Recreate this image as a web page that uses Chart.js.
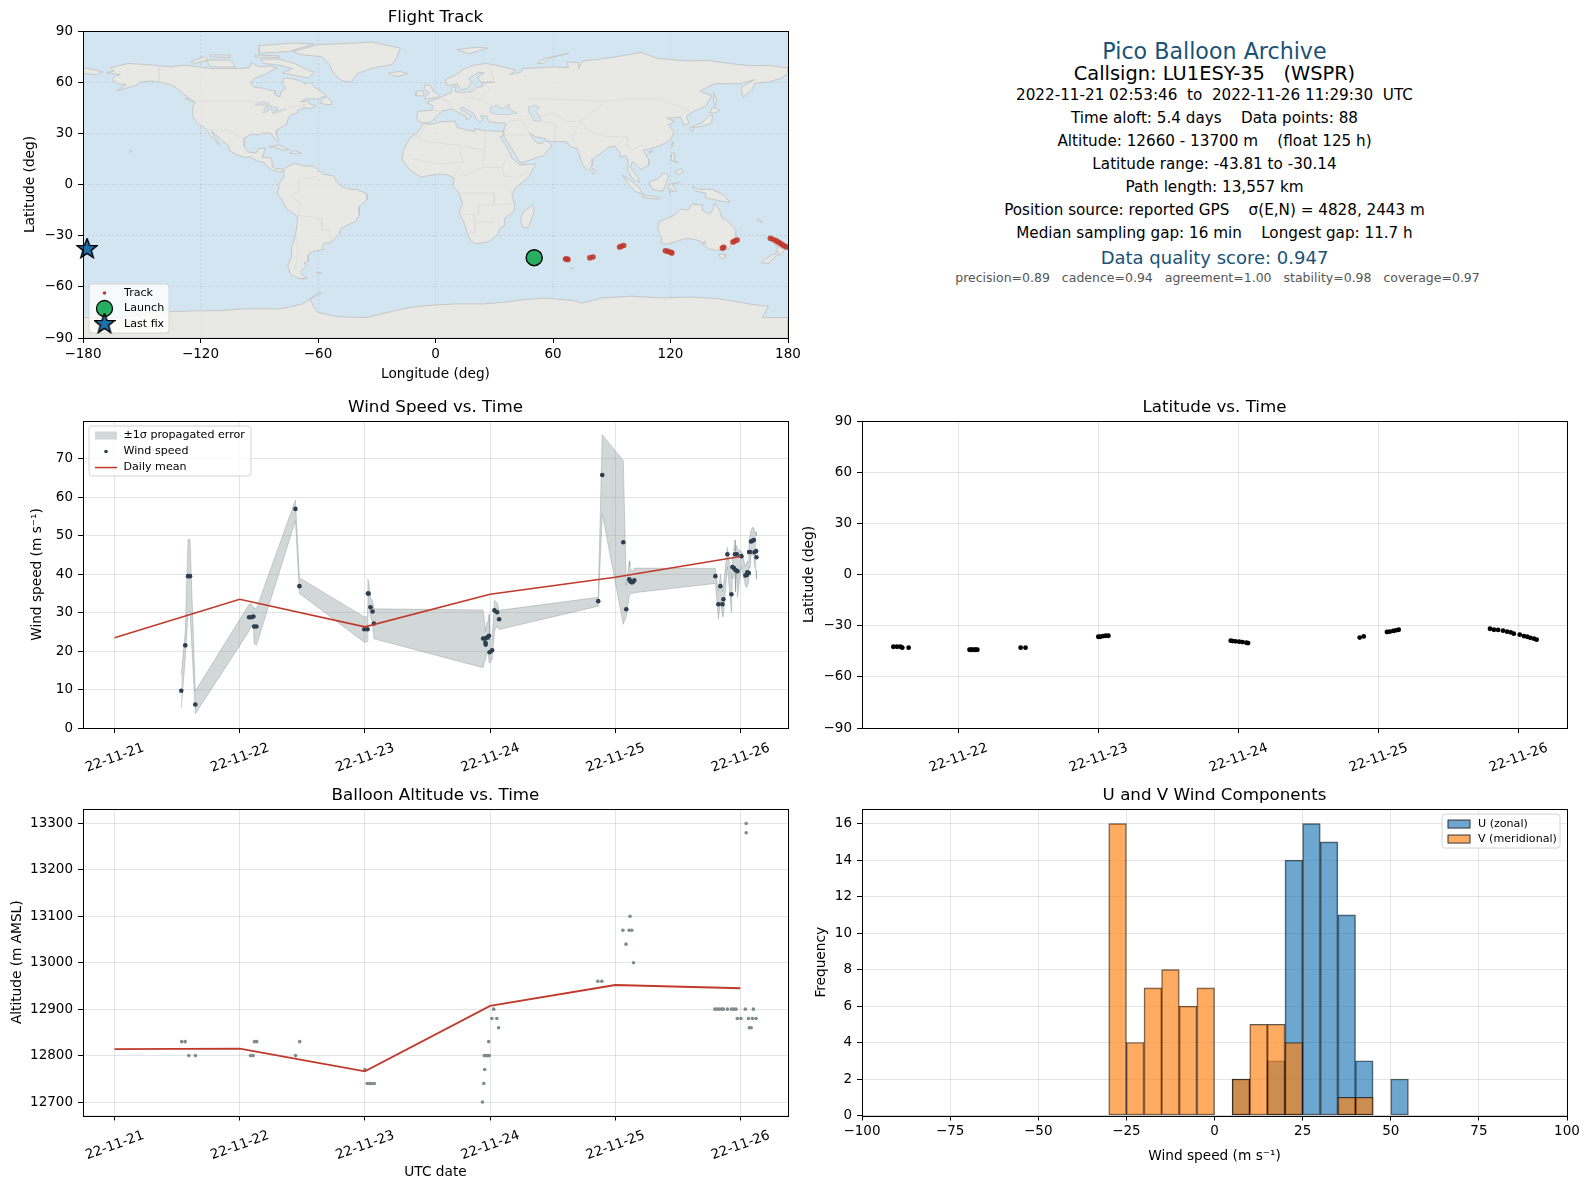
<!DOCTYPE html>
<html lang="en">
<head>
    <meta charset="UTF-8">
    <title>Pico Balloon Archive</title>
    <script src="https://cdn.jsdelivr.net/npm/chart.js"></script>
    <style>
        body { margin: 0; background: #fff; font-family: "DejaVu Sans", sans-serif; }
        canvas { position: absolute; }
        .info { position: absolute; left: 862px; width: 705px; text-align: center; white-space: pre; transform: translateY(-50%); color: #000; font-size: 15.2px; }
    </style>
</head>
<body>
    <canvas id="mapChart" width="820" height="385" style="left:0;top:0"></canvas>
    <canvas id="windChart" width="795" height="400" style="left:0;top:390px"></canvas>
    <canvas id="latChart" width="795" height="400" style="left:795px;top:390px"></canvas>
    <canvas id="altChart" width="795" height="414" style="left:0;top:775px"></canvas>
    <canvas id="histChart" width="795" height="414" style="left:795px;top:775px"></canvas>

    <div class="info" style="top:51px;font-size:22.2px;color:#1a5276">Pico Balloon Archive</div>
    <div class="info" style="top:73px;font-size:19.4px">Callsign: LU1ESY-35   (WSPR)</div>
    <div class="info" style="top:95px">2022-11-21 02:53:46  to  2022-11-26 11:29:30  UTC</div>
    <div class="info" style="top:118px">Time aloft: 5.4 days    Data points: 88</div>
    <div class="info" style="top:141px">Altitude: 12660 - 13700 m    (float 125 h)</div>
    <div class="info" style="top:164px">Latitude range: -43.81 to -30.14</div>
    <div class="info" style="top:187px">Path length: 13,557 km</div>
    <div class="info" style="top:210px">Position source: reported GPS    σ(E,N) = 4828, 2443 m</div>
    <div class="info" style="top:233px">Median sampling gap: 16 min    Longest gap: 11.7 h</div>
    <div class="info" style="top:257px;font-size:18px;color:#1a5276">Data quality score: 0.947</div>
    <div class="info" style="top:277px;left:865px;font-size:12.5px;color:#555">precision=0.89   cadence=0.94   agreement=1.00   stability=0.98   coverage=0.97</div>

    <script>
        // x axis of the time panels is days since 2022-11-21 00:00 UTC
        const dayLabels = ['22-11-21', '22-11-22', '22-11-23', '22-11-24', '22-11-25', '22-11-26'];
        const meanDays = [0, 1, 2, 3, 4, 5];
        const meanWind = [23.5, 33.5, 26.3, 34.8, 39.2, 44.6];
        const meanAlt = [12814, 12815, 12766, 12907, 12952, 12945];

        const windDays = [0.533, 0.565, 0.587, 0.603, 0.645, 1.075, 1.093, 1.109, 1.115, 1.133, 1.445, 1.477, 1.995, 2.021, 2.024, 2.03, 2.045, 2.061, 2.072, 2.944, 2.957, 2.963, 2.965, 2.976, 2.984, 2.992, 2.996, 3.016, 3.035, 3.056, 3.072, 3.864, 3.896, 4.064, 4.088, 4.112, 4.117, 4.128, 4.139, 4.152, 4.8, 4.824, 4.84, 4.856, 4.864, 4.896, 4.928, 4.936, 4.947, 4.957, 4.96, 4.971, 4.976, 5.008, 5.04, 5.051, 5.055, 5.067, 5.069, 5.077, 5.085, 5.096, 5.107, 5.112, 5.125, 5.128];
        const windSpeed = [9.7, 21.5, 39.5, 39.5, 6.1, 28.8, 28.8, 29, 26.4, 26.4, 57, 36.9, 25.7, 25.7, 35, 35, 31.4, 30.3, 27.2, 23.3, 23.3, 22.2, 21.7, 23.5, 23.7, 24, 19.7, 20.2, 30.6, 30.1, 28.3, 33, 65.8, 48.3, 30.9, 38.7, 38.3, 37.9, 37.9, 38.4, 39.5, 32.2, 36.9, 32.2, 33.5, 45.2, 34.8, 41.9, 41.6, 45.2, 41.1, 45.2, 40.8, 44.7, 39.7, 39.8, 40.5, 40.3, 45.8, 45.8, 48.5, 48.7, 48.9, 45.7, 46, 44.4];
        const windLow = [5.2, 18, 30, 30.4, 3.7, 25.2, 26.6, 26.8, 22, 21.5, 53.9, 35, 22.3, 22.5, 31.3, 32, 29, 27, 23.2, 15.7, 17.4, 18, 18, 19.5, 20, 17.2, 17, 17.8, 25.2, 26.5, 25.6, 31.7, 55.7, 27, 29, 34.5, 35, 35, 35, 35.2, 37.6, 28.3, 33, 29, 29, 42, 30, 39, 39, 42, 35.5, 41, 34, 42, 37, 36.5, 37, 38, 42, 41.5, 45, 45, 45, 42, 41, 38.7];
        const windHigh = [13.9, 25, 49.1, 49, 9.6, 32.2, 32.3, 31.2, 31.3, 31, 59.3, 39.1, 28.9, 28.9, 38.7, 38, 33.9, 33, 31, 30.7, 27.5, 25, 26, 27.5, 27.5, 29.6, 23, 23, 33.2, 32.5, 30.6, 34, 76.3, 69.6, 37, 43.5, 42, 41, 40.8, 41.6, 41.5, 35.6, 40, 35.4, 37, 47, 39, 44, 46, 48.9, 46, 47.5, 46.5, 46, 42, 43, 43.5, 43, 49, 50, 51.5, 52.2, 52, 51, 51, 50];

        const latDays = [0.536, 0.562, 0.587, 0.6, 0.645, 1.08, 1.09, 1.1, 1.115, 1.125, 1.136, 1.445, 1.48, 2, 2.014, 2.034, 2.053, 2.072, 2.946, 2.96, 2.98, 3.006, 3.03, 3.058, 3.07, 3.867, 3.896, 4.062, 4.082, 4.107, 4.126, 4.146, 4.798, 4.826, 4.856, 4.891, 4.92, 4.946, 4.968, 5.01, 5.04, 5.064, 5.086, 5.112, 5.131];
        const latDeg = [-42.35, -42.35, -42.35, -42.9, -42.9, -44.1, -44.1, -44.1, -44.1, -44.1, -44.1, -42.9, -42.9, -36.5, -36.5, -36.1, -35.9, -35.9, -38.8, -39, -39.2, -39.4, -39.6, -40, -40.2, -37, -36.3, -33.7, -33.5, -33.1, -32.7, -32.4, -31.8, -32.4, -32.5, -32.9, -33.5, -33.9, -34.7, -35.3, -36.1, -36.5, -37.1, -37.6, -38.2];

        const altDays = [0.536, 0.564, 0.593, 0.646, 1.086, 1.107, 1.118, 1.136, 1.446, 1.479, 2, 2.018, 2.036, 2.054, 2.075, 2.939, 2.95, 2.957, 2.954, 2.968, 2.982, 2.993, 2.989, 3.029, 3.014, 3.054, 3.068, 3.861, 3.893, 4.118, 4.061, 4.111, 4.132, 4.086, 4.146, 4.796, 4.814, 4.832, 4.85, 4.864, 4.896, 4.929, 4.946, 4.964, 5.039, 5.104, 4.975, 5.004, 5.064, 5.096, 5.125, 5.071, 5.086, 5.046, 5.046];
        const altMeters = [12830, 12830, 12800, 12800, 12800, 12800, 12830, 12830, 12800, 12830, 12770, 12740, 12740, 12740, 12740, 12700, 12740, 12770, 12800, 12800, 12800, 12800, 12830, 12900, 12880, 12880, 12860, 12960, 12960, 13100, 13070, 13070, 13070, 13040, 13000, 12900, 12900, 12900, 12900, 12900, 12900, 12900, 12900, 12900, 12900, 12900, 12880, 12880, 12880, 12880, 12880, 12860, 12860, 13300, 13280];

        const binCenters = [-27.5, -22.5, -17.5, -12.5, -7.5, -2.5, 2.5, 7.5, 12.5, 17.5, 22.5, 27.5, 32.5, 37.5, 42.5, 47.5, 52.5];
        const uCounts = [0, 0, 0, 0, 0, 0, 0, 2, 0, 3, 14, 16, 15, 11, 3, 0, 2];
        const vCounts = [16, 4, 7, 8, 6, 7, 0, 2, 5, 5, 4, 0, 0, 1, 1, 0, 0];

        const trackLon = [66.4, 67, 67.6, 78.8, 80.4, 94, 94.9, 96.1, 117.4, 118.6, 120, 120.7, 146.5, 147.2, 151.9, 152.8, 154, 171, 172.5, 174, 175, 176, 177, 178, 179.3];
        const trackLat = [-43.7, -43.7, -43.9, -43, -42.5, -36.6, -36.2, -35.8, -38.8, -39.2, -39.7, -40.1, -37.2, -36.8, -33.7, -33.1, -32.5, -31.5, -32.2, -33, -33.7, -34.4, -35.2, -35.9, -36.6];
        const launchLon = [50.4];
        const launchLat = [-42.9];
        const lastLon = [-177.9];
        const lastLat = [-37.8];

        // coastlines, flat lon,lat lists
        const northAmerica = [-168,65.5,-164,66.5,-166,68.5,-157,71,-150,70.5,-141,69.7,-135,69,-128,70,-124,69.5,-115,68,-108,68,-100,68,-95,68.5,-94,71.5,-90,69,-85,69.5,-81,68.5,-85,66,-87,64.5,-93,62,-94.5,59,-92.5,57,-88,56.5,-85,55.3,-82,55,-82,52.8,-79.5,51.3,-79,54.5,-76.5,56.5,-78,59,-77.5,62.5,-73,62,-69.5,61,-66,58.8,-64.5,60.3,-61,56.5,-57,53.5,-56,52,-60,50.2,-66,50.2,-69,48.5,-65,49,-64.5,47.5,-61,46,-64,44.5,-66,45,-67,44.8,-70,43.7,-70.5,42,-74,40.7,-75.5,38,-76,35.5,-78,34,-81,32,-81.3,29.5,-80.2,26,-81,25.2,-82.7,27.8,-84,30,-88,30.3,-90,29.2,-94,29.5,-97.3,27.5,-97.7,22.5,-95.5,19,-91.5,18.6,-90.5,21,-87,21.5,-88,17,-88.5,15.8,-84,15.8,-83.3,12,-83.5,10.5,-81,9,-79.5,9.5,-77.5,8.7,-78,7.5,-80,7.5,-81,7.8,-83,8.3,-85.7,10,-87.5,13,-91.5,14,-94.5,16.2,-97,15.8,-101.5,17.5,-105.5,20,-105.5,22.5,-109,25.7,-112.5,29.5,-114.7,31.5,-112,26.5,-110,23,-112,25,-114.5,28,-116.5,31.5,-118.5,34,-120.7,35,-122.5,37.5,-124.3,40.5,-124,46,-122.5,48,-125,50,-128,52.5,-130.5,55,-134,58,-140,60,-146,60.7,-151,60,-152,58.5,-158,56.5,-163,54.8,-158,58.5,-162,59,-165,61.5,-164,63.5,-161,64.5,-168,65.5];
        const southAmerica = [-77.5,8.7,-75,11,-71.5,12.4,-68,11,-62,10.7,-60,8.3,-57,6,-52,5,-50,1,-48,-1,-44,-2.7,-40,-3,-35,-5.5,-35,-9,-39,-13,-39,-18,-41,-22,-45,-23.7,-48.5,-26,-49,-29,-53.5,-34,-57,-34.5,-58,-36,-57,-38,-62,-39,-65,-41,-65,-45,-67,-46,-66,-48,-69,-51,-68.5,-52.5,-65.5,-55,-70,-55.2,-74,-52.5,-75.5,-48,-73.5,-42,-73.5,-37,-71.5,-30,-70.3,-19,-76,-14,-79.5,-7.5,-81,-5,-80,-2.5,-80,0.5,-77.5,4,-77.5,8.7];
        const africa = [-6,35.8,-2,35.2,3,36.8,10,37.3,11,33.5,15,32.3,20,31,20,32.8,25,31.6,32,31.2,34.5,31.3,34.8,29,33,28,34,26,37,21,39,15.5,43,11.5,51,12,48,5,41,-2,39,-6,40.5,-12,40,-16,35,-20,35.5,-24,32.8,-26,32,-29,28,-33,25.5,-34,20,-34.8,18,-33,16,-28,14.5,-22,12,-17,13.7,-11,12,-5,9,-1,9.5,4,5,6,1,6,-4.5,5,-7.5,4.4,-13,8.5,-17,14.7,-16.5,20,-13,27.5,-9.5,30,-6,35.8];
        const eurasia = [-9,37,-9.5,39,-9,43,-2,43.5,-1,46,-4.5,48.3,1.5,50.5,4,52,8,54,8.3,57,10.5,57.5,10,54.5,14,54,19,54.5,21,57,24,57.5,24,59.5,30,60,23,60,21.5,63,25,65.5,22,65.8,17,62,18.5,60,16.5,56.5,13,55.5,11,59,6,58,5,61.5,10,64,15,68,20,70,26,71,32,69.7,41,67,38,64.5,44,66,44,68,54,68.5,60,69,68,68.5,67,72,73,71.5,73,68,75,72.5,84,73.5,98,76,105,77.5,113,74,128,72.5,140,72.7,150,71,160,69.7,170,69.8,178,68.7,180,68.5,180,65,177,62.5,170,60,163,59.5,162,56,157,51,156,57,163,61.5,155,59,143,59.3,135,54.8,141,52,138,46,132,43,128,40,129.5,36,126.5,34.5,126,37.5,125,39.7,121.5,39,118,39,122,37,119,35,121.8,31,120,26,114,22.5,110,21,106,20,108.8,15,109,11.5,105,8.8,103,11,100.5,13.5,99.5,10,103.5,4,104,1.3,101,3,98,8,98.5,14,97,17,94.5,16,94,19,91.5,22.5,88,21.7,86.5,20,80.3,15,80,11,77.5,8,75,12,73,19,72.5,21,69,22,67,25,61.5,25.2,57,25.5,56,27,51,28,48,30,50,26.5,51.5,24.5,54,24,56.3,26,59.5,22.5,55,17,45,13,43,13,39,21,35,28,34.8,31.5,36,36,30,36.3,27,37,26.3,40,23,40.5,24,38,23,36.5,21,38,19.5,41.5,14,45.5,12.5,44.5,18.5,40,16,38,15.8,40,12,42,8.5,44.4,3,43,0,39.5,-2,36.8,-5.5,36,-9,37];
        const chukotkaEnd = [-180,65,-180,68.5,-175,67.5,-170,66,-173,64.5,-180,65];
        const australia = [114,-22,113.5,-26,115.5,-32,115,-34.3,118,-35,124,-33,129,-31.5,134,-32.7,138,-35,137.7,-33,136,-35,140,-38,144,-38.5,147,-38.8,150,-37.5,153,-31,153.5,-27,149,-21,146,-19,145,-15,142.5,-10.8,141.5,-15,140,-17.5,136,-15,136.5,-12,131,-11.5,129,-15,125,-14.5,122,-18,117,-20.5,114,-22];
        const antarctica = [-180,-78,-160,-78,-155,-77,-145,-75,-135,-74.5,-120,-74,-110,-74,-100,-73,-90,-72.8,-80,-73,-75,-72,-68,-70,-62,-66,-58,-63.5,-60,-63.5,-64,-67,-62,-72,-60,-75,-50,-77.5,-35,-78,-28,-76,-15,-72.5,-5,-71,10,-70,25,-70,35,-69,45,-67.5,55,-66.5,70,-68,75,-69.5,85,-66.5,100,-65.5,115,-66.5,130,-66,145,-67,160,-70,170,-71.5,167,-78,180,-78,180,-90,-180,-90,-180,-78];
        const islands = [
            [-73,78,-60,82,-32,83.5,-18,80,-20,74,-22,70.5,-33,68,-40,65,-43,60,-48,61,-52,65,-54,70,-58,75,-68,76,-73,78],
            [-80,73.5,-72,71,-65,67,-62,66,-65,62.5,-72,64,-78,65.5,-73,68,-80,70,-88,71,-89,73.5,-80,73.5],
            [-117,73,-105,73,-102,69,-115,69,-117,73],
            [-125,72,-118,75,-116,73,-123,71,-125,72],
            [-90,77,-75,78,-62,82.5,-72,83,-90,81.5,-90,77],
            [-92,76,-80,75.5,-80,74.5,-92,74.7,-92,76],
            [-115,76,-105,76,-105,74.5,-115,74.8,-115,76],
            [-59,47.7,-55.5,46.8,-53,47,-53,49,-56,51.5,-58,49.5,-59,47.7],
            [-128,50.5,-125,50,-123.5,48.5,-125,48.8,-128,50.5],
            [-85,22,-80,23.2,-75,20.5,-78,20,-82,22,-85,22],
            [-74.5,18.5,-72,20,-68.5,18.5,-71,18,-74.5,18.5],
            [-24,65.5,-18,66.3,-14,65,-19,63.4,-22.5,64,-24,65.5],
            [-5.5,50,1.5,51.3,1.7,52.8,-1.5,55,-2,57.7,-5,58.6,-6,56,-3,54,-5,52,-5.5,50],
            [-10,52,-6,52,-6,54.5,-8.5,55.2,-10,54,-10,52],
            [11,79,20,80.5,27,80,17,76.7,11,79],
            [52,71,56,74,68,77,58,74,55,71,52,71],
            [49.3,-12,50.5,-15.5,47.5,-25,45,-25.5,43.5,-22,44.5,-16.5,49.3,-12],
            [80,9.5,82,7.5,80.5,6,79.8,8,80,9.5],
            [95.3,5.6,100,2,104,-2,106,-5.8,102,-4,98.5,0.5,95.3,5.6],
            [105.5,-6.5,110,-6.5,114.5,-7.7,114,-8.7,106,-7.5,105.5,-6.5],
            [109,1.5,113,3,117,7,119,5,118,1,116,-4,111,-3,109.5,0,109,1.5],
            [119.5,-5.5,119,0,125,1.5,121,0,123,-4,121,-4,120.5,-2.5,119.5,-5.5],
            [131,-1,135,-3,141,-2.7,147,-6,150.5,-10.5,147,-10,143,-9,138,-8,138,-5,133,-4,131,-1],
            [120.5,18.5,122,18,122,14,124,13,120.5,14,120.5,18.5],
            [122,7.5,125.5,9.5,126.5,7,124,6,122,7.5],
            [120.3,23,121.5,25.2,121,22,120.3,23],
            [108.8,19,110.8,20,110,18.3,108.8,19],
            [130.9,34,136,36,140,40.5,141.5,40.5,141,36,136,34,132,33.5,130.9,34],
            [140,42,141.5,45.4,145.3,43.5,143,42,140,42],
            [130,33.5,131.8,33.5,131,31,130,32,130,33.5],
            [142,54,143.5,50,143,46,142,48,142,54],
            [144.7,-40.7,148.3,-41,148,-43,146,-43.6,145.3,-42.5,144.7,-40.7],
            [172.7,-34.5,175.5,-37,178.5,-37.7,176.5,-41,175,-41.5,175,-39.5,173.8,-39.3,174.8,-37,172.7,-34.5],
            [172.7,-40.5,174.3,-41.5,171,-45,170,-46.5,166.5,-46,168,-44,171.5,-41.5,172.7,-40.5],
            [69,-49,70.5,-49,69.8,-49.8,69,-49],
            [-61,-51.5,-58,-51.5,-59,-52.3,-61,-51.5],
            [164,-20,167,-22,166,-22,164,-20],
            [-156,20,-155,19.5,-155.5,19,-156,20],
            [-70,-54,-65.5,-54.8,-68,-55.5,-71,-54.5,-70,-54]
        ];
        const inlandSeas = [
            [28,42,28,45,31,46.5,34,44.5,38,47,37,44.7,41.5,42,37,41,31,41.2,28,42],
            [47.5,45.5,51,46.5,53,45,51,43,53,40,54,37,50,37.5,49,40,47.5,43,47.5,45.5],
            [-92,46.8,-88,48.7,-85,47.5,-85,46.6,-88,46.6,-92,46.8],
            [-88,42,-87,45.5,-85,46,-85.5,43,-88,42],
            [-84,46,-80.5,45,-81.5,43,-83.5,43.5,-84,46],
            [-83,41.7,-79,42.8,-79,43.6,-76.5,43.6,-76.5,44,-80,43.4,-83,42.3,-83,41.7]
        ];
        const borders = [
            [-123,49,-95,49,-89,48,-83,46,-82.5,42,-79,43,-75,45,-70,46,-67,47,-67,45],
            [-117,32.5,-106,31.7,-97,26],
            [-141,69.7,-141,60,-135,58],
            [-70,-18,-58,-20,-58,-27,-54,-26,-53.5,-34],
            [-70,-18,-69,-11,-74,-7,-70,-4,-70,2,-60,5],
            [-71,-30,-70,-40,-72,-50],
            [-8.7,27,-4,25,12,23,25,20,25,31],
            [-13,27,-8.7,27,-5,35.5],
            [12,23,14,13,3,12,-12,15],
            [25,20,24,10,34,10,35,5,42,4,48,8],
            [34,10,37,18],
            [9,4,14,13],
            [14,5,24,10],
            [12,-5,30,-5,30,-12,22,-12,22,-18,12,-17],
            [30,-12,40,-11],
            [20,-18,20,-28,16,-28],
            [30,-22,20,-22],
            [35,-1,40,-4],
            [-2,43.5,3,43],
            [2,51,8,48,7,44],
            [14,54,15,51,24,50,30,45],
            [24,59.5,28,56,24,52,22,48],
            [30,60,28,69.5],
            [61,25,61,36,53,37],
            [48,30,46,34,44,38,37,37],
            [35,29,47,29],
            [46,38,60,42,67,37,74,37,80,42,87,49,98,50,115,50,130,43],
            [87,49,60,50,47,50],
            [74,37,70,29,71,24],
            [74,37,79,31,88,28,97,28,94,24,91,22.5],
            [98,28,98,22,100,20,105,23,107,21.5]
        ];

        Chart.defaults.font.family = '"DejaVu Sans", sans-serif';
        Chart.defaults.font.size = 13.5;
        Chart.defaults.color = '#000';
        Chart.defaults.animation = false;

        const red = '#c0392b';
        const gridLine = 'rgba(0,0,0,0.1)';

        function toXY(xs, ys) {
            return xs.map((x, i) => ({ x: x, y: ys[i] }));
        }
        function flatToXY(flat) {
            const pts = [];
            for (let i = 0; i < flat.length; i += 2) pts.push({ x: flat[i], y: flat[i + 1] });
            return pts;
        }

        function makeStar(size, fill) {
            const c = document.createElement('canvas');
            c.width = size; c.height = size;
            const g = c.getContext('2d');
            g.beginPath();
            for (let i = 0; i < 10; i++) {
                const r = (i % 2 ? 0.2 : 0.48) * size;
                const a = -Math.PI / 2 + i * Math.PI / 5;
                g.lineTo(size / 2 + r * Math.cos(a), size / 2 + r * Math.sin(a));
            }
            g.closePath();
            g.fillStyle = fill;
            g.fill();
            g.lineWidth = 1.4;
            g.strokeStyle = '#000';
            g.stroke();
            return c;
        }
        const starBlue = '#1f6fa8';
        const starIcon = makeStar(22, starBlue);

        // frame, plot background and the legend box inside the axes
        const panelDeco = {
            id: 'panelDeco',
            beforeDraw(chart, args, opts) {
                if (opts.bg) {
                    const a = chart.chartArea;
                    chart.ctx.fillStyle = opts.bg;
                    chart.ctx.fillRect(a.left, a.top, a.width, a.height);
                }
            },
            afterDraw(chart, args, opts) {
                const ctx = chart.ctx, a = chart.chartArea;
                ctx.save();
                ctx.strokeStyle = '#000';
                ctx.lineWidth = 1;
                const l = Math.round(a.left) + 0.5, t = Math.round(a.top) + 0.5;
                ctx.strokeRect(l, t, Math.round(a.right) + 0.5 - l, Math.round(a.bottom) + 0.5 - t);
                if (opts.legend) drawBoxLegend(ctx, a, opts.legend);
                ctx.restore();
            }
        };
        Chart.register(panelDeco);

        function drawBoxLegend(ctx, area, lg) {
            const x = lg.right !== undefined ? area.right - lg.right - lg.w : area.left + lg.left;
            const y = lg.bottom !== undefined ? area.bottom - lg.bottom - lg.h : area.top + lg.top;
            ctx.beginPath();
            ctx.roundRect(x, y, lg.w, lg.h, 3);
            ctx.fillStyle = 'rgba(255,255,255,0.8)';
            ctx.fill();
            ctx.strokeStyle = '#d4d4d4';
            ctx.lineWidth = 1;
            ctx.stroke();
            ctx.font = '11.1px "DejaVu Sans"';
            ctx.textBaseline = 'middle';
            lg.items.forEach((it, i) => {
                const cy = y + lg.first + i * lg.step;
                const sx = x + 6, sw = lg.swatch, mx = sx + sw / 2;
                if (it.kind === 'band' || it.kind === 'bar') {
                    ctx.fillStyle = it.color;
                    ctx.fillRect(sx, cy - 4, sw, 8);
                    if (it.edge) { ctx.strokeStyle = it.edge; ctx.lineWidth = 1; ctx.strokeRect(sx, cy - 4, sw, 8); }
                } else if (it.kind === 'line') {
                    ctx.strokeStyle = it.color;
                    ctx.lineWidth = 1.5;
                    ctx.beginPath(); ctx.moveTo(sx, cy); ctx.lineTo(sx + sw, cy); ctx.stroke();
                } else if (it.kind === 'dot' || it.kind === 'circle') {
                    ctx.fillStyle = it.color;
                    ctx.beginPath(); ctx.arc(mx, cy, it.r, 0, Math.PI * 2); ctx.fill();
                    if (it.edge) { ctx.strokeStyle = it.edge; ctx.lineWidth = 1.3; ctx.stroke(); }
                } else if (it.kind === 'star') {
                    ctx.drawImage(starIcon, mx - 11, cy - 11);
                }
                ctx.fillStyle = '#000';
                ctx.textAlign = 'left';
                ctx.fillText(it.label, sx + sw + lg.gap, cy);
            });
        }

        // fixed plot rectangle in canvas coordinates
        function boxOptions(b) {
            return {
                layout: { autoPadding: false, padding: { top: b.top - 23, right: b.w - b.right, left: 0, bottom: 0 } },
                yFit: s => { s.width = b.left; },
                xFit: s => { s.height = b.h - b.bottom; }
            };
        }
        function titleOpt(text) {
            return { display: true, fullSize: false, text: text, font: { size: 16.7, weight: 'normal', lineHeight: 1.2 }, padding: { top: 0, bottom: 3 } };
        }
        function dayAxis(box, min, max, label) {
            const ax = {
                type: 'linear', min: min, max: max, afterFit: box.xFit,
                grid: { color: gridLine, tickColor: '#000', tickLength: 5 },
                ticks: {
                    stepSize: 1, includeBounds: false, autoSkip: false, minRotation: 20, maxRotation: 20, padding: 7, labelOffset: 29,
                    callback: v => dayLabels[v]
                }
            };
            if (label) ax.title = { display: true, text: label, font: { size: 13.7 }, padding: { bottom: 8 } };
            return ax;
        }
        function valueAxis(box, min, max, step, label, pad, fmt) {
            return {
                type: 'linear', min: min, max: max, afterFit: box.yFit,
                grid: { color: gridLine, tickColor: '#000', tickLength: 5 },
                ticks: { stepSize: step, includeBounds: false, padding: 5, callback: fmt || (v => v) },
                title: { display: true, text: label, font: { size: 13.7 }, padding: { top: pad } }
            };
        }
        const minusFmt = v => (v < 0 ? '\u2212' + Math.abs(v) : String(v));

        // Flight track
        const mapBox = boxOptions({ left: 83, right: 788, top: 31, bottom: 338, w: 820, h: 385 });
        const landSets = [northAmerica, southAmerica, africa, eurasia, chukotkaEnd, australia, antarctica].concat(islands).map(p => ({
            data: flatToXY(p), showLine: true, fill: 'shape', tension: 0, pointRadius: 0,
            backgroundColor: 'rgba(237,233,225,0.8)', borderColor: '#c6c8c8', borderWidth: 1, order: 20
        }));
        const seaSets = inlandSeas.map(p => ({
            data: flatToXY(p), showLine: true, fill: 'shape', tension: 0, pointRadius: 0,
            backgroundColor: '#d3e5f1', borderColor: '#c6c8c8', borderWidth: 0.8, order: 15
        }));
        const borderSets = borders.map(p => ({
            data: flatToXY(p), showLine: true, fill: false, tension: 0, pointRadius: 0,
            borderColor: '#dcdcd8', borderWidth: 0.8, order: 10
        }));
        new Chart(document.getElementById('mapChart'), {
            type: 'scatter',
            data: {
                datasets: [
                    { data: toXY(lastLon, lastLat), pointStyle: starIcon, order: 0, clip: false },
                    { data: toXY(launchLon, launchLat), pointRadius: 8, backgroundColor: '#27ae60', borderColor: '#000', borderWidth: 1.4, order: 1 },
                    { data: toXY(trackLon, trackLat), pointRadius: 2.8, backgroundColor: 'rgba(192,57,43,0.9)', borderWidth: 0, order: 2 }
                ].concat(borderSets, seaSets, landSets)
            },
            options: {
                responsive: false,
                layout: mapBox.layout,
                plugins: {
                    legend: { display: false },
                    tooltip: { enabled: false },
                    title: titleOpt('Flight Track'),
                    panelDeco: {
                        bg: '#d3e5f1',
                        legend: {
                            left: 6, bottom: 5, w: 80, h: 49, first: 9, step: 15.5, swatch: 19, gap: 10,
                            items: [
                                { kind: 'dot', label: 'Track', color: red, r: 1.8 },
                                { kind: 'circle', label: 'Launch', color: '#27ae60', edge: '#000', r: 8 },
                                { kind: 'star', label: 'Last fix' }
                            ]
                        }
                    }
                },
                scales: {
                    x: {
                        type: 'linear', min: -180, max: 180, afterFit: mapBox.xFit,
                        grid: { color: 'rgba(120,120,120,0.18)', tickColor: '#000', tickLength: 5 },
                        border: { dash: [2, 2] },
                        ticks: { stepSize: 60, padding: 3, callback: minusFmt },
                        title: { display: true, text: 'Longitude (deg)', font: { size: 13.7 }, padding: { bottom: 2 } }
                    },
                    y: {
                        type: 'linear', min: -90, max: 90, afterFit: mapBox.yFit,
                        grid: { color: 'rgba(120,120,120,0.18)', tickColor: '#000', tickLength: 5 },
                        border: { dash: [2, 2] },
                        ticks: { stepSize: 30, padding: 5, callback: minusFmt },
                        title: { display: true, text: 'Latitude (deg)', font: { size: 13.7 }, padding: { top: 22 } }
                    }
                }
            }
        });

        // Wind speed
        const windBox = boxOptions({ left: 83, right: 788, top: 31, bottom: 338, w: 795, h: 400 });
        new Chart(document.getElementById('windChart'), {
            type: 'scatter',
            data: {
                datasets: [
                    { data: toXY(meanDays, meanWind), showLine: true, tension: 0, pointRadius: 0, borderColor: red, borderWidth: 1.6, order: 0 },
                    { data: toXY(windDays, windSpeed), pointRadius: 2.3, backgroundColor: '#2c3e50', borderWidth: 0, order: 1 },
                    { data: toXY(windDays, windHigh), showLine: true, tension: 0, pointRadius: 0, borderColor: 'rgba(127,140,141,0.35)', borderWidth: 1, backgroundColor: 'rgba(127,140,141,0.35)', fill: '+1', order: 2 },
                    { data: toXY(windDays, windLow), showLine: true, tension: 0, pointRadius: 0, borderColor: 'rgba(127,140,141,0.35)', borderWidth: 1, order: 3 }
                ]
            },
            options: {
                responsive: false,
                layout: windBox.layout,
                plugins: {
                    legend: { display: false },
                    tooltip: { enabled: false },
                    title: titleOpt('Wind Speed vs. Time'),
                    panelDeco: {
                        legend: {
                            left: 6, top: 5, w: 162, h: 50, first: 9.5, step: 16, swatch: 22, gap: 6.5,
                            items: [
                                { kind: 'band', label: '\u00b11\u03c3 propagated error', color: 'rgba(127,140,141,0.35)' },
                                { kind: 'dot', label: 'Wind speed', color: '#2c3e50', r: 1.8 },
                                { kind: 'line', label: 'Daily mean', color: red }
                            ]
                        }
                    }
                },
                scales: {
                    x: dayAxis(windBox, -0.252, 5.38),
                    y: valueAxis(windBox, 0, 79.85, 10, 'Wind speed (m s\u207b\u00b9)', 29)
                }
            }
        });

        // Latitude
        const latBox = boxOptions({ left: 67, right: 772, top: 31, bottom: 338, w: 795, h: 400 });
        new Chart(document.getElementById('latChart'), {
            type: 'scatter',
            data: {
                datasets: [{ data: toXY(latDays, latDeg), pointRadius: 2.4, backgroundColor: '#000', borderWidth: 0 }]
            },
            options: {
                responsive: false,
                layout: latBox.layout,
                plugins: {
                    legend: { display: false },
                    tooltip: { enabled: false },
                    title: titleOpt('Latitude vs. Time')
                },
                scales: {
                    x: dayAxis(latBox, 0.312, 5.348),
                    y: valueAxis(latBox, -90, 90, 30, 'Latitude (deg)', 6, minusFmt)
                }
            }
        });

        // Altitude
        const altBox = boxOptions({ left: 83, right: 788, top: 34, bottom: 340.5, w: 795, h: 414 });
        new Chart(document.getElementById('altChart'), {
            type: 'scatter',
            data: {
                datasets: [
                    { data: toXY(meanDays, meanAlt), showLine: true, tension: 0, pointRadius: 0, borderColor: red, borderWidth: 1.8, order: 0 },
                    { data: toXY(altDays, altMeters), pointRadius: 1.8, backgroundColor: '#7f8c8d', borderWidth: 0, order: 1 }
                ]
            },
            options: {
                responsive: false,
                layout: altBox.layout,
                plugins: {
                    legend: { display: false },
                    tooltip: { enabled: false },
                    title: titleOpt('Balloon Altitude vs. Time')
                },
                scales: {
                    x: dayAxis(altBox, -0.252, 5.38, 'UTC date'),
                    y: valueAxis(altBox, 12671, 13331, 100, 'Altitude (m AMSL)', 9)
                }
            }
        });

        // U and V histogram
        const histBox = boxOptions({ left: 67, right: 772, top: 34, bottom: 340.5, w: 795, h: 414 });
        new Chart(document.getElementById('histChart'), {
            type: 'bar',
            data: {
                datasets: [
                    { data: toXY(binCenters, vCounts), backgroundColor: 'rgba(255,127,14,0.65)', borderColor: 'rgba(0,0,0,0.65)', borderWidth: 1, borderSkipped: false, order: 0 },
                    { data: toXY(binCenters, uCounts), backgroundColor: 'rgba(31,119,180,0.65)', borderColor: 'rgba(0,0,0,0.65)', borderWidth: 1, borderSkipped: false, order: 1 }
                ]
            },
            options: {
                responsive: false,
                layout: histBox.layout,
                datasets: { bar: { grouped: false, categoryPercentage: 1, barPercentage: 1 } },
                plugins: {
                    legend: { display: false },
                    tooltip: { enabled: false },
                    title: titleOpt('U and V Wind Components'),
                    panelDeco: {
                        legend: {
                            right: 7, top: 5, w: 118, h: 34, first: 10, step: 15, swatch: 22, gap: 8,
                            items: [
                                { kind: 'bar', label: 'U (zonal)', color: 'rgba(31,119,180,0.65)', edge: '#333' },
                                { kind: 'bar', label: 'V (meridional)', color: 'rgba(255,127,14,0.65)', edge: '#333' }
                            ]
                        }
                    }
                },
                scales: {
                    x: {
                        type: 'linear', min: -100, max: 100, offset: false, afterFit: histBox.xFit,
                        grid: { offset: false, color: gridLine, tickColor: '#000', tickLength: 5 },
                        ticks: { stepSize: 25, padding: 3, callback: minusFmt },
                        title: { display: true, text: 'Wind speed (m s\u207b\u00b9)', font: { size: 13.7 }, padding: { bottom: 24 } }
                    },
                    y: valueAxis(histBox, 0, 16.8, 2, 'Frequency', 18)
                }
            }
        });
    </script>
</body>
</html>
